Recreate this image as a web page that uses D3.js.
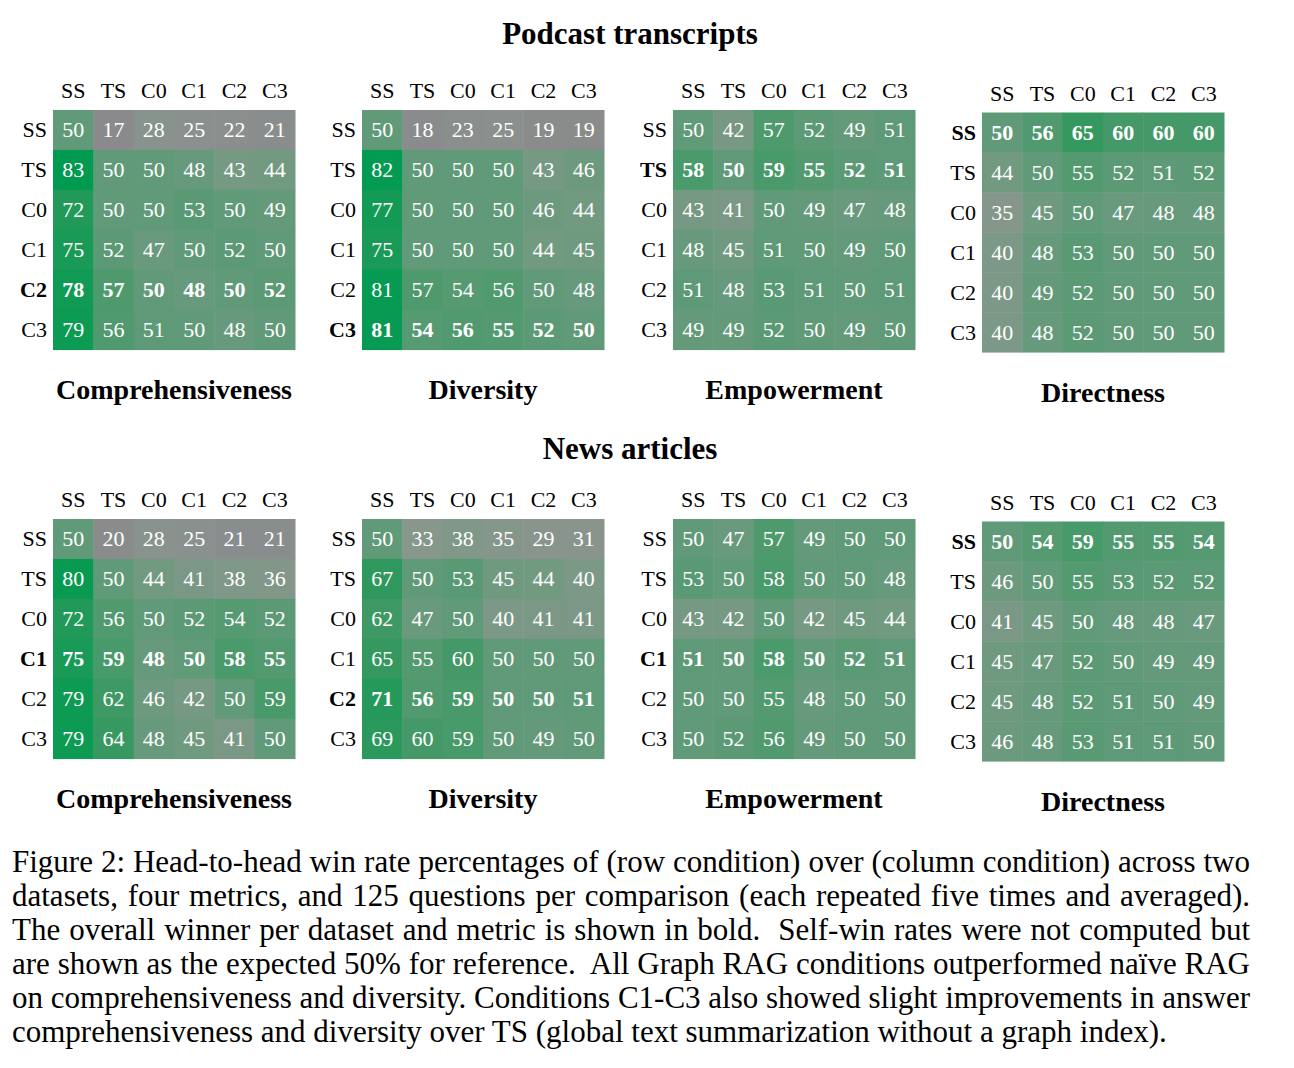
<!DOCTYPE html>
<html>
<head>
<meta charset="utf-8">
<script src="https://cdn.jsdelivr.net/npm/d3@7"></script>
<style>
  body { margin: 0; background: #fff; }
  svg text { font-family: 'Liberation Serif', 'DejaVu Serif', serif; }
</style>
</head>
<body>
<div id="chart"></div>
<script>
// Data
const conditions = ['SS', 'TS', 'C0', 'C1', 'C2', 'C3']
const metrics = ['Comprehensiveness', 'Diversity', 'Empowerment', 'Directness']
const datasets = ['Podcast transcripts', 'News articles']

const podcastComprehensiveness = [
  [50, 17, 28, 25, 22, 21],
  [83, 50, 50, 48, 43, 44],
  [72, 50, 50, 53, 50, 49],
  [75, 52, 47, 50, 52, 50],
  [78, 57, 50, 48, 50, 52],
  [79, 56, 51, 50, 48, 50]
]
const podcastDiversity = [
  [50, 18, 23, 25, 19, 19],
  [82, 50, 50, 50, 43, 46],
  [77, 50, 50, 50, 46, 44],
  [75, 50, 50, 50, 44, 45],
  [81, 57, 54, 56, 50, 48],
  [81, 54, 56, 55, 52, 50]
]
const podcastEmpowerment = [
  [50, 42, 57, 52, 49, 51],
  [58, 50, 59, 55, 52, 51],
  [43, 41, 50, 49, 47, 48],
  [48, 45, 51, 50, 49, 50],
  [51, 48, 53, 51, 50, 51],
  [49, 49, 52, 50, 49, 50]
]
const podcastDirectness = [
  [50, 56, 65, 60, 60, 60],
  [44, 50, 55, 52, 51, 52],
  [35, 45, 50, 47, 48, 48],
  [40, 48, 53, 50, 50, 50],
  [40, 49, 52, 50, 50, 50],
  [40, 48, 52, 50, 50, 50]
]
const newsComprehensiveness = [
  [50, 20, 28, 25, 21, 21],
  [80, 50, 44, 41, 38, 36],
  [72, 56, 50, 52, 54, 52],
  [75, 59, 48, 50, 58, 55],
  [79, 62, 46, 42, 50, 59],
  [79, 64, 48, 45, 41, 50]
]
const newsDiversity = [
  [50, 33, 38, 35, 29, 31],
  [67, 50, 53, 45, 44, 40],
  [62, 47, 50, 40, 41, 41],
  [65, 55, 60, 50, 50, 50],
  [71, 56, 59, 50, 50, 51],
  [69, 60, 59, 50, 49, 50]
]
const newsEmpowerment = [
  [50, 47, 57, 49, 50, 50],
  [53, 50, 58, 50, 50, 48],
  [43, 42, 50, 42, 45, 44],
  [51, 50, 58, 50, 52, 51],
  [50, 50, 55, 48, 50, 50],
  [50, 52, 56, 49, 50, 50]
]
const newsDirectness = [
  [50, 54, 59, 55, 55, 54],
  [46, 50, 55, 53, 52, 52],
  [41, 45, 50, 48, 48, 47],
  [45, 47, 52, 50, 49, 49],
  [45, 48, 52, 51, 50, 49],
  [46, 48, 53, 51, 51, 50]
]

// overall winner (bold row) per dataset and metric
const podcastWinners = ['C2', 'C3', 'TS', 'SS']
const newsWinners = ['C1', 'C2', 'C1', 'SS']

const captionLines = [
  'Figure 2: Head-to-head win rate percentages of (row condition) over (column condition) across two',
  'datasets, four metrics, and 125 questions per comparison (each repeated five times and averaged).',
  'The overall winner per dataset and metric is shown in bold.  Self-win rates were not computed but',
  'are shown as the expected 50% for reference.  All Graph RAG conditions outperformed na\u00efve RAG',
  'on comprehensiveness and diversity. Conditions C1-C3 also showed slight improvements in answer',
  'comprehensiveness and diversity over TS (global text summarization without a graph index).'
]

const panels = [
  { dataset: 0, metric: 0, values: podcastComprehensiveness, winner: podcastWinners[0] },
  { dataset: 0, metric: 1, values: podcastDiversity, winner: podcastWinners[1] },
  { dataset: 0, metric: 2, values: podcastEmpowerment, winner: podcastWinners[2] },
  { dataset: 0, metric: 3, values: podcastDirectness, winner: podcastWinners[3] },
  { dataset: 1, metric: 0, values: newsComprehensiveness, winner: newsWinners[0] },
  { dataset: 1, metric: 1, values: newsDiversity, winner: newsWinners[1] },
  { dataset: 1, metric: 2, values: newsEmpowerment, winner: newsWinners[2] },
  { dataset: 1, metric: 3, values: newsDirectness, winner: newsWinners[3] }
]

// Dimensions
const width = 1294
const height = 1068
const gridSize = 242
const panelX = [53, 362, 673, 982]
const panelY = [110, 519]
const directnessShift = 2.5
const titleY = [44, 459]
const serif = "'Liberation Serif', 'DejaVu Serif', serif"

const svg = d3.select('#chart')
  .append('svg')
  .attr('width', width)
  .attr('height', height)
  .attr('font-family', serif)

// grey (low) -> muted green (50) -> strong green (high)
const color = d3.scaleLinear()
  .domain([17, 25, 33, 40, 45, 50, 57, 65, 75, 83])
  .range(['#8a8a8c', '#8a908d', '#88978c', '#7c9886', '#709a80',
          '#619a79', '#4e9a6d', '#35985f', '#199a56', '#009a50'])
  .clamp(true)

const x = d3.scaleBand().domain(conditions).range([0, gridSize])
const y = d3.scaleBand().domain(conditions).range([0, gridSize * 0.99])

// dataset titles
svg.selectAll('text.dataset')
  .data(datasets)
  .join('text')
  .attr('class', 'dataset')
  .attr('x', 630)
  .attr('y', (d, i) => titleY[i])
  .attr('text-anchor', 'middle')
  .attr('font-weight', 'bold')
  .attr('font-size', 31)
  .text(d => d)

panels.forEach(p => {
  const shift = p.metric === 3 ? directnessShift : 0
  const g = svg.append('g')
    .attr('transform', `translate(${panelX[p.metric]}, ${panelY[p.dataset] + shift})`)

  const cells = p.values.flatMap((row, i) =>
    row.map((v, j) => ({ row: conditions[i], col: conditions[j], v })))

  g.selectAll('rect')
    .data(cells)
    .join('rect')
    .attr('x', d => x(d.col))
    .attr('y', d => y(d.row))
    .attr('width', x.bandwidth() + 0.5)
    .attr('height', y.bandwidth() + 0.5)
    .attr('fill', d => color(d.v))

  g.selectAll('text.val')
    .data(cells)
    .join('text')
    .attr('class', 'val')
    .attr('x', d => x(d.col) + x.bandwidth() / 2)
    .attr('y', d => y(d.row) + y.bandwidth() / 2 + 7.5)
    .attr('text-anchor', 'middle')
    .attr('font-size', 22)
    .attr('fill', '#fff')
    .attr('font-weight', d => d.row === p.winner ? 'bold' : 'normal')
    .text(d => d.v)

  // column labels
  g.selectAll('text.col')
    .data(conditions)
    .join('text')
    .attr('class', 'col')
    .attr('x', d => x(d) + x.bandwidth() / 2)
    .attr('y', -12)
    .attr('text-anchor', 'middle')
    .attr('font-size', 22)
    .text(d => d)

  // row labels
  g.selectAll('text.row')
    .data(conditions)
    .join('text')
    .attr('class', 'row')
    .attr('x', -6)
    .attr('y', d => y(d) + y.bandwidth() / 2 + 7.5)
    .attr('text-anchor', 'end')
    .attr('font-size', 22)
    .attr('font-weight', d => d === p.winner ? 'bold' : 'normal')
    .text(d => d)

  // metric name
  g.append('text')
    .attr('x', gridSize / 2)
    .attr('y', 289)
    .attr('text-anchor', 'middle')
    .attr('font-size', 28)
    .attr('font-weight', 'bold')
    .text(metrics[p.metric])
})

// caption, justified except the last line
const captionLeft = 12
const captionRight = 1250
const caption = svg.append('g')
caption.selectAll('text')
  .data(captionLines)
  .join('text')
  .attr('x', captionLeft)
  .attr('y', (d, i) => 872 + i * 34)
  .attr('font-size', 31)
  .style('white-space', 'pre')
  .text(d => d)
  .each(function (d, i) {
    if (i === captionLines.length - 1) return
    const gaps = d.split(' ').length - 1
    const len = this.getComputedTextLength()
    const extra = (captionRight - captionLeft - len) / gaps
    d3.select(this).attr('word-spacing', extra)
  })
</script>
</body>
</html>
